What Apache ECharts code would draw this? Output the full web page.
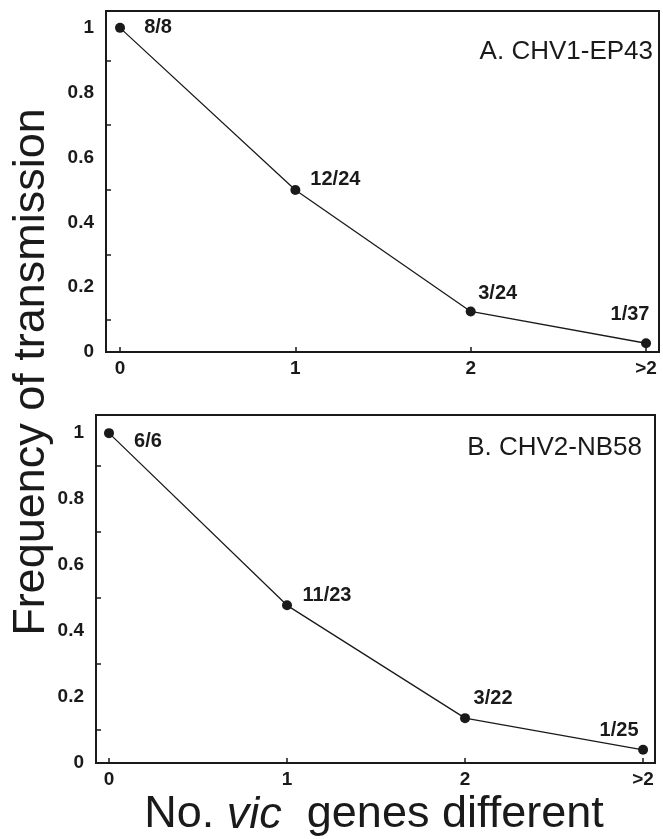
<!DOCTYPE html>
<html>
<head>
<meta charset="utf-8">
<script src="https://cdn.jsdelivr.net/npm/echarts@6/dist/echarts.min.js"></script>
<style>
  html, body { margin: 0; padding: 0; background: #fff; }
  #main { width: 663px; height: 839px; }
</style>
</head>
<body>
<div id="main"></div>
<script>
// x positions and their tick labels
const xValues = [0, 1, 2, 3]
const xLabels = ['0', '1', '2', '>2']
const yLabelValues = [0, 0.2, 0.4, 0.6, 0.8, 1]
const yTickValues = [0.1, 0.3, 0.5, 0.7, 0.9]

// A. CHV1-EP43
const freqA = [1, 0.5, 0.125, 0.027]
const countsA = ['8/8', '12/24', '3/24', '1/37']
// B. CHV2-NB58
const freqB = [1, 0.478, 0.136, 0.04]
const countsB = ['6/6', '11/23', '3/22', '1/25']

const panelTitles = ['A. CHV1-EP43', 'B. CHV2-NB58']
const yTitle = 'Frequency of transmission'

const chart = echarts.init(document.getElementById('main'))
const FONT = '"Liberation Sans", Arial, Helvetica, sans-serif'
const INK = '#1a1a1a'

// where each count label sits relative to its point (px)
const offsetsA = [[38, 0], [40, -10], [27, -18], [-16, -29]]
const offsetsB = [[39, 8], [40, -10], [28, -20], [-24, -19]]

function makeData(freq, counts, offsets) {
  return freq.map((v, i) => ({
    value: [xValues[i], v],
    label: { formatter: counts[i], offset: offsets[i] }
  }))
}

function xAxis(idx, min, max) {
  return {
    type: 'value', gridIndex: idx, min: min, max: max,
    axisLine: { show: true, onZero: false, lineStyle: { color: INK, width: 2 } },
    axisTick: { show: true, inside: true, length: 5, customValues: xValues, lineStyle: { color: INK, width: 1.5 } },
    axisLabel: {
      customValues: xValues,
      formatter: v => xLabels[xValues.indexOf(v)],
      color: INK, fontFamily: FONT, fontWeight: 'bold', fontSize: 19, margin: 7
    },
    splitLine: { show: false }
  }
}

function yAxis(idx, max) {
  return {
    type: 'value', gridIndex: idx, min: 0, max: max,
    axisLine: { show: true, onZero: false, lineStyle: { color: INK, width: 2 } },
    axisTick: { show: true, inside: true, length: 5, customValues: yTickValues, lineStyle: { color: INK, width: 1.5 } },
    axisLabel: {
      customValues: yLabelValues,
      formatter: v => String(+v.toFixed(1)),
      color: INK, fontFamily: FONT, fontWeight: 'bold', fontSize: 19, margin: 12
    },
    splitLine: { show: false }
  }
}

function lineSeries(idx, name, data) {
  return {
    name: name, type: 'line', xAxisIndex: idx, yAxisIndex: idx,
    data: data,
    symbol: 'circle', symbolSize: 10,
    itemStyle: { color: INK },
    lineStyle: { color: INK, width: 1.3 },
    label: {
      show: true, position: 'inside', align: 'center', verticalAlign: 'middle',
      color: INK, fontFamily: FONT, fontWeight: 'bold', fontSize: 20
    },
    z: 3
  }
}

chart.setOption({
  animation: false,
  backgroundColor: '#fff',
  grid: [
    { left: 106, top: 11, right: 4, height: 341, show: true, borderColor: INK, borderWidth: 2, backgroundColor: 'transparent' },
    { left: 96, top: 415, right: 8, height: 348, show: true, borderColor: INK, borderWidth: 2, backgroundColor: 'transparent' }
  ],
  xAxis: [xAxis(0, -0.08, 3.074), xAxis(1, -0.073, 3.067)],
  yAxis: [yAxis(0, 1.052), yAxis(1, 1.055)],
  series: [
    lineSeries(0, panelTitles[0], makeData(freqA, countsA, offsetsA)),
    lineSeries(1, panelTitles[1], makeData(freqB, countsB, offsetsB))
  ],
  title: [
    { text: panelTitles[0], right: 10, top: 39, padding: 0, textStyle: { fontFamily: FONT, fontWeight: 'normal', fontSize: 26, color: INK } },
    { text: panelTitles[1], right: 21, top: 435, padding: 0, textStyle: { fontFamily: FONT, fontWeight: 'normal', fontSize: 26, color: INK } }
  ],
  graphic: [
    {
      type: 'text', x: 32, y: 372, rotation: Math.PI / 2,
      style: { text: yTitle, fontFamily: FONT, fontSize: 45, fill: INK, align: 'center', verticalAlign: 'middle' }
    },
    {
      type: 'text', x: 374, y: 815,
      style: {
        text: 'No. {i|vic}  genes different',
        fontFamily: FONT, fontSize: 45, fill: INK, align: 'center', verticalAlign: 'middle',
        rich: { i: { fontFamily: FONT, fontSize: 45, fontStyle: 'italic', fill: INK } }
      }
    }
  ]
})
</script>
</body>
</html>
